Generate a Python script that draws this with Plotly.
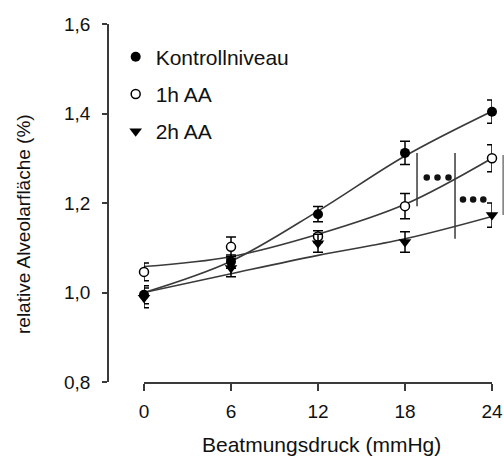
import plotly.graph_objects as go

# ---- data ----
pressure = [0, 6, 12, 18, 24]
x_ticks = [0, 6, 12, 18, 24]
y_ticks = [0.8, 1.0, 1.2, 1.4, 1.6]
y_ticktext = ["0,8", "1,0", "1,2", "1,4", "1,6"]

kontroll = [0.995, 1.069, 1.175, 1.312, 1.404]
kontroll_err = [0.020, 0.015, 0.017, 0.026, 0.026]
h1 = [1.046, 1.102, 1.125, 1.193, 1.300]
h1_err = [0.020, 0.022, 0.013, 0.028, 0.030]
h2 = [0.988, 1.055, 1.110, 1.113, 1.173]
h2_err = [0.022, 0.020, 0.020, 0.023, 0.027]

kontroll_fit = [1.000, 1.070, 1.182, 1.305, 1.405]
h1_fit = [1.058, 1.080, 1.130, 1.197, 1.300]
h2_fit = [1.000, 1.042, 1.083, 1.120, 1.170]

# significance markers
sig_bar_x = [18.83, 21.45]
sig_bar_y0 = [1.312, 1.312]
sig_bar_y1 = [1.193, 1.120]
sig_dots1_x = [19.5, 20.24, 21.0]
sig_dots1_y = [1.257, 1.257, 1.257]
sig_dots2_x = [22.0, 22.7, 23.4]
sig_dots2_y = [1.208, 1.208, 1.208]
edge_bar_y = [1.307, 1.173]

FONT = "Liberation Sans, Arial, sans-serif"
LINE = "#3a3a3a"

fig = go.Figure()

for fit in (kontroll_fit, h1_fit, h2_fit):
    fig.add_trace(go.Scatter(x=pressure, y=fit, mode="lines",
                             line=dict(color=LINE, width=1.6, shape="spline"),
                             showlegend=False, hoverinfo="skip"))

err_style = dict(type="data", thickness=1.5, width=5, color="#000")

fig.add_trace(go.Scatter(x=pressure, y=kontroll, mode="markers", name="Kontrollniveau",
                         legendgroup="a",
                         marker=dict(symbol="circle", size=10, color="#000"),
                         error_y=dict(array=kontroll_err, **err_style), cliponaxis=False))
fig.add_trace(go.Scatter(x=pressure, y=h1, mode="markers", name="1h AA",
                         legendgroup="b",
                         marker=dict(symbol="circle", size=9, color="#fff",
                                     line=dict(color="#000", width=1.5)),
                         error_y=dict(array=h1_err, **err_style), cliponaxis=False))
fig.add_trace(go.Scatter(x=pressure, y=h2, mode="markers", name="2h AA",
                         legendgroup="c",
                         marker=dict(symbol="triangle-down", size=11, color="#000"),
                         error_y=dict(array=h2_err, **err_style), cliponaxis=False))

for xs, ys in ((sig_dots1_x, sig_dots1_y), (sig_dots2_x, sig_dots2_y)):
    fig.add_trace(go.Scatter(x=xs, y=ys, mode="markers",
                             marker=dict(size=6.5, color="#111"),
                             showlegend=False, hoverinfo="skip", cliponaxis=False))

for bx, y0, y1 in zip(sig_bar_x, sig_bar_y0, sig_bar_y1):
    fig.add_shape(type="line", xref="x", yref="y", x0=bx, x1=bx, y0=y0, y1=y1,
                  line=dict(color=LINE, width=1.5))
fig.add_shape(type="line", xref="paper", yref="y", x0=1.029, x1=1.029,
              y0=edge_bar_y[0], y1=edge_bar_y[1], line=dict(color="#777", width=1.5))

fig.update_layout(
    width=504, height=457,
    margin=dict(l=108, r=12, t=24, b=75, autoexpand=False),
    paper_bgcolor="#fff", plot_bgcolor="#fff",
    font=dict(family=FONT, color="#111"),
    showlegend=True,
    legend=dict(x=0.02, y=0.965, xanchor="left", yanchor="top",
                font=dict(family=FONT, size=21, color="#111"),
                bgcolor="rgba(0,0,0,0)", traceorder="grouped", tracegroupgap=7),
    xaxis=dict(domain=[36 / 384, 1], range=[0, 24], tickvals=x_ticks,
               ticktext=[str(v) for v in x_ticks], automargin=False,
               showline=True, linecolor=LINE, linewidth=1.5,
               ticks="outside", ticklen=7, tickwidth=1.5, tickcolor=LINE,
               tickfont=dict(size=19, color="#111"), ticklabelstandoff=4,
               showgrid=False, zeroline=False),
    yaxis=dict(anchor="free", position=0, range=[0.8, 1.6], tickvals=y_ticks,
               ticktext=y_ticktext, automargin=False,
               showline=True, linecolor=LINE, linewidth=1.5,
               ticks="outside", ticklen=5, tickwidth=1.5, tickcolor=LINE,
               tickfont=dict(size=19, color="#111"), ticklabelstandoff=8,
               showgrid=False, zeroline=False),
    annotations=[
        dict(text="Beatmungsdruck (mmHg)", xref="paper", yref="paper",
             x=(321 - 108) / 384, y=-(444 - 382) / 358, xanchor="center", yanchor="middle",
             showarrow=False, font=dict(family=FONT, size=21, color="#111")),
        dict(text="relative Alveolarfläche (%)", xref="paper", yref="paper",
             x=(23 - 108) / 384, y=1 - (224 - 24) / 358, xanchor="center", yanchor="middle",
             textangle=-90, showarrow=False, font=dict(family=FONT, size=19, color="#111")),
    ],
)

fig.write_html("out.html")
